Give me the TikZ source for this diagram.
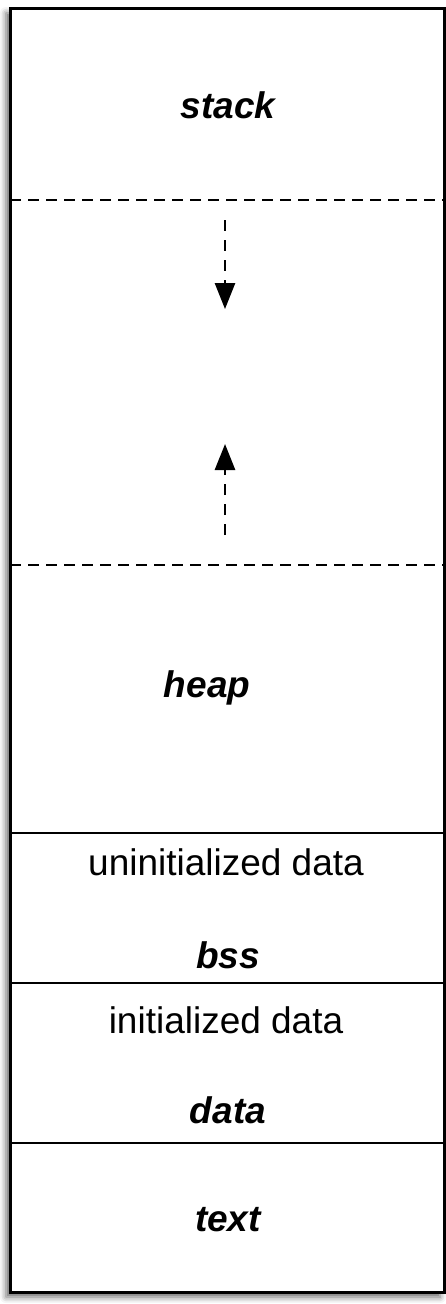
\documentclass[tikz,border=0pt]{standalone}
\usepackage{fontspec}
\setmainfont{Liberation Sans}
\usetikzlibrary{arrows.meta,shadows.blur}
\begin{document}
\begin{tikzpicture}[x=1pt,y=-1pt]
  \tikzstyle{segname}=[font=\fontsize{37}{44}\selectfont\bfseries\itshape]
  \tikzstyle{segnote}=[font=\fontsize{37}{44}\selectfont]
  \tikzstyle{boundary}=[line width=2.6pt, dash pattern=on 11pt off 7pt]
  \tikzstyle{growth}=[line width=2.6pt, dash pattern=on 11pt off 9pt, -{Triangle[width=20pt,length=26pt,fill=black]}]
  \useasboundingbox (0,0) rectangle (446,1304);
  % Outer box
  \draw[line width=3pt, fill=white, blur shadow={shadow xshift=-4pt, shadow yshift=-5pt, shadow blur radius=6pt, shadow opacity=60}]
    (10,8) rectangle (444,1292);
  % Segment boundaries
  \coordinate (sl) at (10,200);  \coordinate (sr) at (444,200);
  \coordinate (hl) at (10,565);  \coordinate (hr) at (444,565);
  \coordinate (bl) at (10,833);  \coordinate (br) at (444,833);
  \coordinate (dl) at (10,983);  \coordinate (dr) at (444,983);
  \coordinate (tl) at (10,1143); \coordinate (tr) at (444,1143);
  \draw[boundary] (sl) -- (sr);
  \draw[boundary] (hl) -- (hr);
  \draw[line width=2.6pt] (bl) -- (br);
  \draw[line width=2.6pt] (dl) -- (dr);
  \draw[line width=2.6pt] (tl) -- (tr);
  % Labels
  \node[segname] (stack) at (228,105) {stack};
  \node[segname] (heap) at (207,688) {heap};
  \node[segnote] (uninit) at (226,862) {uninitialized data};
  \node[segname] (bss) at (228,955) {bss};
  \node[segnote] (init) at (226,1020) {initialized data};
  \node[segname] (data) at (228,1110) {data};
  \node[segname] (text) at (228,1220) {text};
  % Growth arrows
  \coordinate (down0) at (225,220); \coordinate (down1) at (225,309);
  \coordinate (up0) at (225,535);   \coordinate (up1) at (225,444);
  \draw[growth] (down0) -- (down1);
  \draw[growth] (up0) -- (up1);
\end{tikzpicture}
\end{document}
